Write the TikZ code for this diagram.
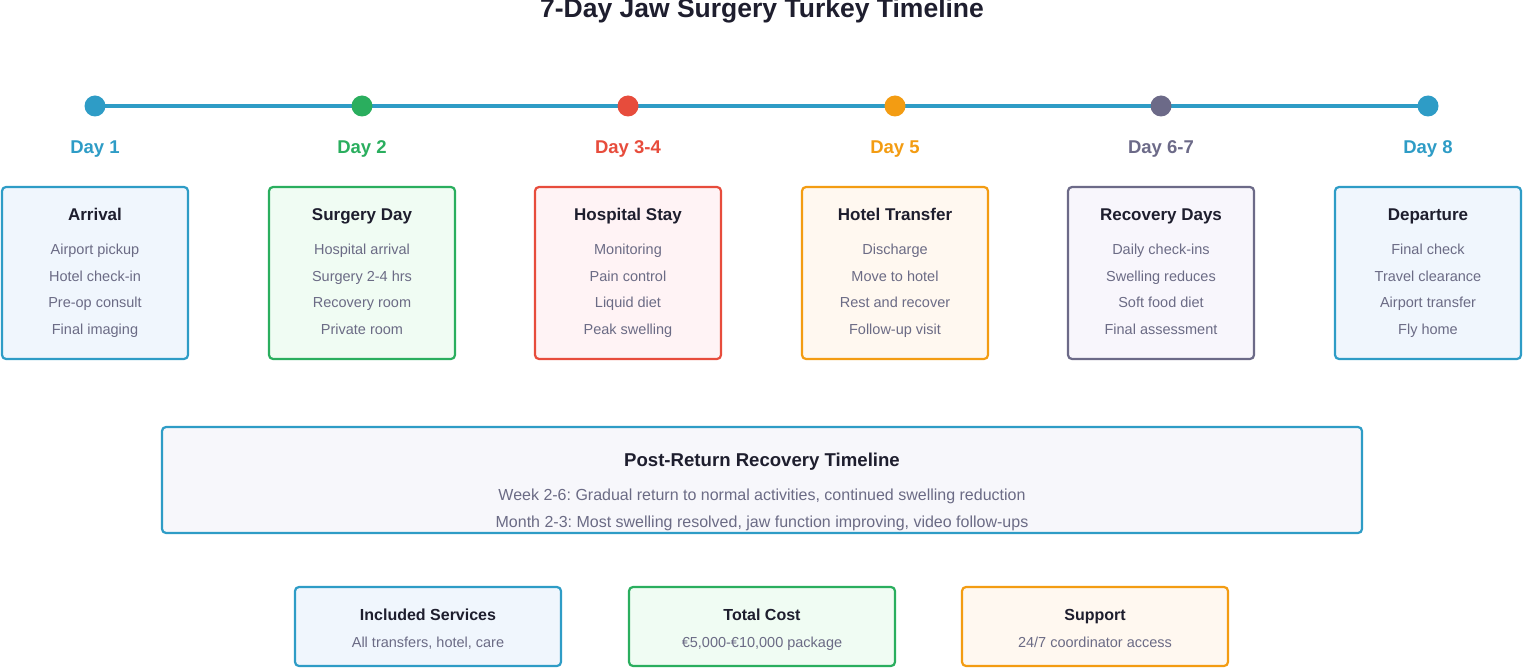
\documentclass[tikz,border=0pt]{standalone}
\usepackage{fontspec}
\setmainfont{Liberation Sans}
\frenchspacing
\definecolor{cb}{HTML}{2E9CC6}\definecolor{cg}{HTML}{2AAE5E}\definecolor{cr}{HTML}{E74C3C}
\definecolor{co}{HTML}{F39C12}\definecolor{cy}{HTML}{6C6A88}
\definecolor{fb}{HTML}{F0F6FD}\definecolor{fg}{HTML}{F0FCF3}\definecolor{fr}{HTML}{FFF3F5}
\definecolor{fo}{HTML}{FFF8F0}\definecolor{fy}{HTML}{F8F6FC}\definecolor{fp}{HTML}{F7F7FB}
\definecolor{tx}{HTML}{6B6B85}\definecolor{dk}{HTML}{1E1E2E}
\tikzset{
 every node/.append style={text height=0.72em,text depth=0.2em,yshift=-3.5pt},
 card/.style={draw=#1,line width=2.2pt,rounded corners=4pt,inner sep=0pt},
 dot/.style={circle,fill=#1,minimum size=21pt,inner sep=0pt,text height=,text depth=,yshift=3.5pt},
 daylbl/.style={text=#1,font=\fontsize{18.5}{22}\selectfont\bfseries},
 ttl/.style={text=dk,font=\fontsize{17}{20}\selectfont\bfseries},
 itm/.style={text=tx,font=\fontsize{14.5}{17}\selectfont},
}
\begin{document}
\begin{tikzpicture}[x=1pt,y=-1pt]
\useasboundingbox (0,0) rectangle (1524,668);
\node[text=dk,font=\fontsize{26.5}{30}\selectfont\bfseries] (title) at (762,11) {7-Day Jaw Surgery Turkey Timeline};
\draw[cb,line width=4pt] (95,106) -- (1428,106);
\foreach \x/\c/\f/\d/\t/\a/\b/\e/\g [count=\i] in {
 95/cb/fb/Day 1/Arrival/Airport pickup/Hotel check-in/Pre-op consult/Final imaging,
 362/cg/fg/Day 2/Surgery Day/Hospital arrival/Surgery 2-4 hrs/Recovery room/Private room,
 628/cr/fr/Day 3-4/Hospital Stay/Monitoring/Pain control/Liquid diet/Peak swelling,
 895/co/fo/Day 5/Hotel Transfer/Discharge/Move to hotel/Rest and recover/Follow-up visit,
 1161/cy/fy/Day 6-7/Recovery Days/Daily check-ins/Swelling reduces/Soft food diet/Final assessment,
 1428/cb/fb/Day 8/Departure/Final check/Travel clearance/Airport transfer/Fly home}{
 \node[dot=\c] (d\i) at (\x,106) {};
 \node[daylbl=\c] (l\i) at (\x,147) {\d};
 \draw[card=\c,fill=\f] (\x-93,187) rectangle (\x+93,359);
 \node[ttl] (t\i) at (\x,214) {\t};
 \node[itm] (a\i) at (\x,248) {\a};
 \node[itm] (b\i) at (\x,275) {\b};
 \node[itm] (c\i) at (\x,301) {\e};
 \node[itm] (e\i) at (\x,328) {\g};
}
\draw[card=cb,fill=fp] (162,427) rectangle (1362,533);
\node[ttl,font=\fontsize{18.6}{22}\selectfont\bfseries] (pt) at (762,460) {Post-Return Recovery Timeline};
\node[itm,font=\fontsize{16}{19}\selectfont] (p1) at (762,494) {Week 2-6: Gradual return to normal activities, continued swelling reduction};
\node[itm,font=\fontsize{16}{19}\selectfont] (p2) at (762,521) {Month 2-3: Most swelling resolved, jaw function improving, video follow-ups};
\foreach \x/\c/\f/\t/\a [count=\i] in {428/cb/fb/Included Services/{All transfers, hotel, care},
 762/cg/fg/Total Cost/{€5,000-€10,000 package}, 1095/co/fo/Support/{24/7 coordinator access}}{
 \draw[card=\c,fill=\f] (\x-133,587) rectangle (\x+133,666);
 \node[ttl,font=\fontsize{16}{19}\selectfont\bfseries] (s\i) at (\x,614) {\t};
 \node[itm] (u\i) at (\x,641) {\a};
}
\end{tikzpicture}
\end{document}
